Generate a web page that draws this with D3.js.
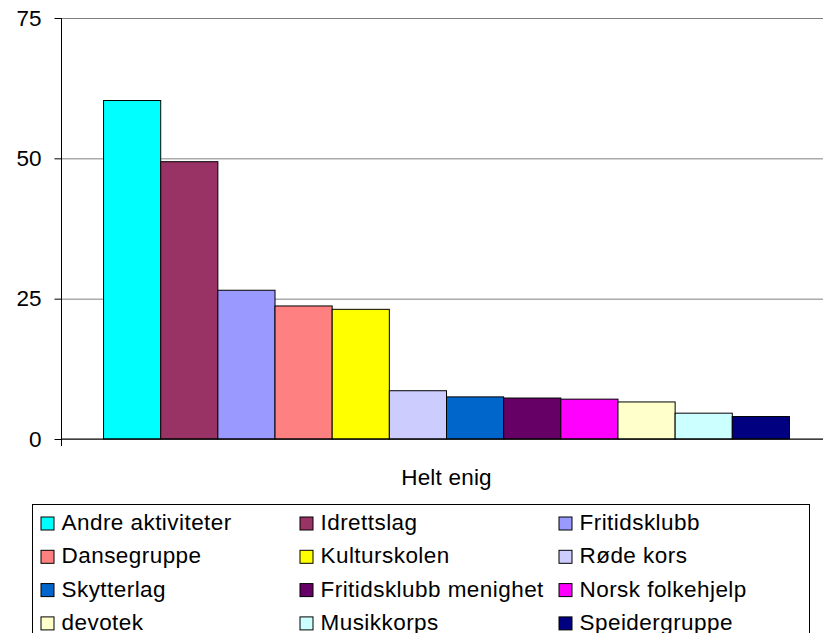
<!DOCTYPE html>
<html>
<head>
<meta charset="utf-8">
<script src="https://cdn.jsdelivr.net/npm/d3@7"></script>
<style>
  body { margin: 0; background: #fff; }
  svg { display: block; font-family: "Liberation Sans", Arial, sans-serif; }
</style>
</head>
<body>
<div class="chart-container"></div>
<script>
// Data
var category = "Helt enig";
var series = ["Andre aktiviteter", "Idrettslag", "Fritidsklubb", "Dansegruppe", "Kulturskolen",
    "Røde kors", "Skytterlag", "Fritidsklubb menighet", "Norsk folkehjelp", "devotek",
    "Musikkorps", "Speidergruppe"];
var values = [60.3, 49.4, 26.5, 23.7, 23.1, 8.6, 7.5, 7.3, 7.1, 6.6, 4.6, 4.0];
var colors = ["#00FFFF", "#993366", "#9999FF", "#FF8080", "#FFFF00", "#CCCCFF",
    "#0066CC", "#660066", "#FF00FF", "#FFFFCC", "#CCFFFF", "#000080"];
var yTicks = [0, 25, 50, 75];

// Set Margin
var margin = { top: 18, left: 61.5 },
    width = 770,
    height = 421;

var svg = d3.select('.chart-container').append("svg")
    .attr("width", 823)
    .attr("height", 633);

var g = svg.append("g")
    .attr("transform", "translate(" + margin.left + "," + margin.top + ")");

// Scales
var x0 = d3.scaleBand()
    .domain([category])
    .range([0, width])
    .paddingOuter(0.0613);
var x1 = d3.scaleBand()
    .domain(series)
    .range([0, x0.bandwidth()]);
var y = d3.scaleLinear()
    .domain([0, 75])
    .range([height, 0]);

// Gridlines
g.append("g")
    .attr("class", "grid")
    .call(d3.axisLeft(y).tickValues(yTicks).tickSize(-width).tickFormat(""))
    .call(function(s) {
        s.select(".domain").remove();
        s.selectAll("line").attr("stroke", "#808080");
    });

// Bars
g.selectAll(".bar")
    .data(values)
    .enter().append("rect")
    .attr("class", "bar")
    .attr("x", function(d, i) { return x0(category) + x1(series[i]); })
    .attr("width", x1.bandwidth())
    .attr("y", function(d) { return y(d); })
    .attr("height", function(d) { return height - y(d); })
    .attr("fill", function(d, i) { return colors[i]; })
    .attr("stroke", "#000")
    .attr("stroke-width", 1);

// Y axis
g.append("g")
    .attr("class", "y-axis")
    .call(d3.axisLeft(y).tickValues(yTicks).tickSize(7).tickPadding(13))
    .call(function(s) {
        s.select(".domain").attr("d", "M0,0V" + (height + 7));
        s.selectAll("text").attr("font-size", 22.5).attr("fill", "#000").attr("font-family", null);
    });

// X axis
var xAxis = g.append("g")
    .attr("transform", "translate(0," + height + ")");
xAxis.append("line")
    .attr("x1", 0).attr("x2", width)
    .attr("stroke", "#000");
xAxis.append("text")
    .attr("x", x0(category) + x0.bandwidth() / 2)
    .attr("y", 46)
    .attr("text-anchor", "middle")
    .attr("font-size", 22.5)
    .attr("letter-spacing", 0.2)
    .text(category);

// Legend
var legend = svg.append("g").attr("transform", "translate(32.5,504.5)");
legend.append("rect")
    .attr("width", 777)
    .attr("height", 160)
    .attr("fill", "#fff")
    .attr("stroke", "#000");

var item = legend.selectAll(".item")
    .data(series)
    .enter().append("g")
    .attr("class", "item")
    .attr("transform", function(d, i) {
        return "translate(" + (8.5 + (i % 3) * 259) + "," + (12.5 + Math.floor(i / 3) * 33.3) + ")";
    });
item.append("rect")
    .attr("width", 13)
    .attr("height", 13)
    .attr("fill", function(d, i) { return colors[i]; })
    .attr("stroke", "#000");
item.append("text")
    .attr("x", 20.5)
    .attr("y", 13)
    .attr("font-size", 22.5)
    .attr("letter-spacing", 0.45)
    .text(function(d) { return d; });
</script>
</body>
</html>
